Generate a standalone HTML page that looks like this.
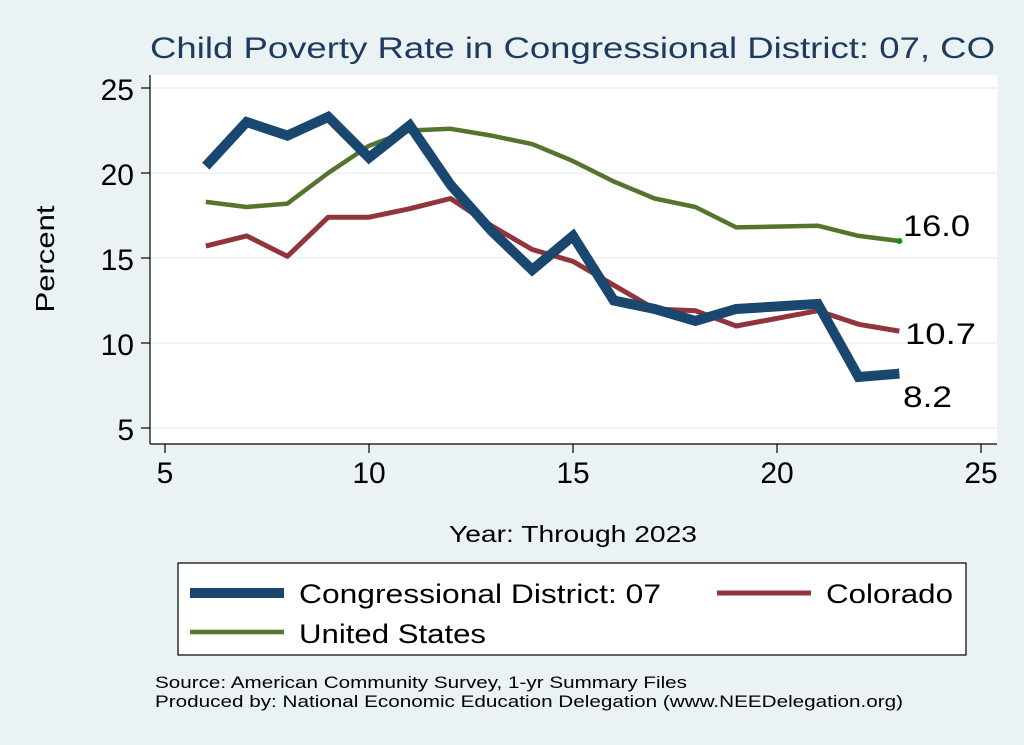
<!DOCTYPE html>
<html><head><meta charset="utf-8"><style>
body{margin:0;background:#eaf2f3;}
svg{display:block;font-family:"Liberation Sans",Arial,sans-serif;}
</style></head><body>
<svg width="1024" height="745" viewBox="0 0 1024 745" xml:space="preserve">
<rect width="1024" height="745" fill="#eaf2f3"/>
<text x="150" y="58" font-size="30" fill="#1e3a5f" textLength="845" lengthAdjust="spacingAndGlyphs">Child Poverty Rate in Congressional District:  07, CO</text>
<rect x="150" y="75" width="847" height="369" fill="#fff"/>
<g stroke="#eaf2f3" stroke-width="1.5">
<line x1="150" x2="997" y1="88" y2="88"/><line x1="150" x2="997" y1="173" y2="173"/>
<line x1="150" x2="997" y1="258" y2="258"/><line x1="150" x2="997" y1="343" y2="343"/>
<line x1="150" x2="997" y1="428" y2="428"/></g>
<g stroke="#000" stroke-width="1.2">
<line x1="150" x2="150" y1="75" y2="444"/><line x1="150" x2="997" y1="444" y2="444"/>
<line x1="141" x2="150" y1="88" y2="88"/><line x1="141" x2="150" y1="173" y2="173"/><line x1="141" x2="150" y1="258" y2="258"/><line x1="141" x2="150" y1="343" y2="343"/><line x1="141" x2="150" y1="428" y2="428"/>
<line x1="165" x2="165" y1="444" y2="453"/><line x1="369" x2="369" y1="444" y2="453"/><line x1="573" x2="573" y1="444" y2="453"/><line x1="777" x2="777" y1="444" y2="453"/><line x1="981" x2="981" y1="444" y2="453"/>
</g>
<g font-size="30" text-anchor="end">
<text x="134" y="100">25</text><text x="134" y="185">20</text><text x="134" y="270">15</text><text x="134" y="355">10</text><text x="134" y="440">5</text></g>
<g font-size="30" text-anchor="middle">
<text x="165" y="483">5</text><text x="369" y="483">10</text><text x="573" y="483">15</text><text x="777" y="483">20</text><text x="981" y="483">25</text></g>
<text x="54" y="259" font-size="26" text-anchor="middle" transform="rotate(-90 54 259)" textLength="107" lengthAdjust="spacingAndGlyphs">Percent</text>
<text x="449" y="542" font-size="23" textLength="248" lengthAdjust="spacingAndGlyphs">Year: Through 2023</text>
<polyline fill="none" stroke="#55752f" stroke-width="4.5" stroke-linejoin="round" points="205.8,201.9 246.6,207 287.4,203.6 328.2,173 369,145.8 409.8,130.5 450.6,128.8 491.4,135.6 532.2,144.1 573,161.1 613.8,181.5 654.6,198.5 695.4,207 736.2,227.4 817.8,225.7 858.6,235.9 899.4,241"/>
<polyline fill="none" stroke="#90353b" stroke-width="5" stroke-linejoin="round" points="205.8,246.1 246.6,235.9 287.4,256.3 328.2,217.2 369,217.2 409.8,208.7 450.6,198.5 491.4,225.7 532.2,249.5 573,261.4 613.8,285.2 654.6,309 695.4,310.7 736.2,326 817.8,310.7 858.6,324.3 899.4,331.1"/>
<polyline fill="none" stroke="#1a476f" stroke-width="10" stroke-linejoin="miter" points="205.8,166.2 246.6,122 287.4,135.6 328.2,116.9 369,157.7 409.8,125.4 450.6,184.9 491.4,230.8 532.2,269.9 573,235.9 613.8,300.5 654.6,309 695.4,320.9 736.2,309 817.8,303.9 858.6,377 899.4,373.6"/>
<circle cx="899.4" cy="241" r="3" fill="#1a8a1a"/>
<g font-size="30"><text x="903" y="236" textLength="67" lengthAdjust="spacingAndGlyphs">16.0</text><text x="905" y="344" textLength="71" lengthAdjust="spacingAndGlyphs">10.7</text><text x="903" y="407" textLength="49" lengthAdjust="spacingAndGlyphs">8.2</text></g>
<rect x="178" y="563" width="788" height="92" fill="#fff" stroke="#000" stroke-width="1.2"/>
<line x1="190" x2="284" y1="593" y2="593" stroke="#1a476f" stroke-width="10"/>
<text x="299" y="603" font-size="27" textLength="362" lengthAdjust="spacingAndGlyphs">Congressional District:  07</text>
<line x1="717" x2="811" y1="593" y2="593" stroke="#90353b" stroke-width="5"/>
<text x="826" y="603" font-size="27" textLength="127" lengthAdjust="spacingAndGlyphs">Colorado</text>
<line x1="190" x2="284" y1="632" y2="632" stroke="#55752f" stroke-width="4.5"/>
<text x="299" y="643" font-size="27" textLength="187" lengthAdjust="spacingAndGlyphs">United States</text>
<text x="155" y="688" font-size="17" textLength="532" lengthAdjust="spacingAndGlyphs">Source: American Community Survey, 1-yr Summary Files</text>
<text x="155" y="707" font-size="17" textLength="748" lengthAdjust="spacingAndGlyphs">Produced by: National Economic Education Delegation (www.NEEDelegation.org)</text>
</svg>
</body></html>
